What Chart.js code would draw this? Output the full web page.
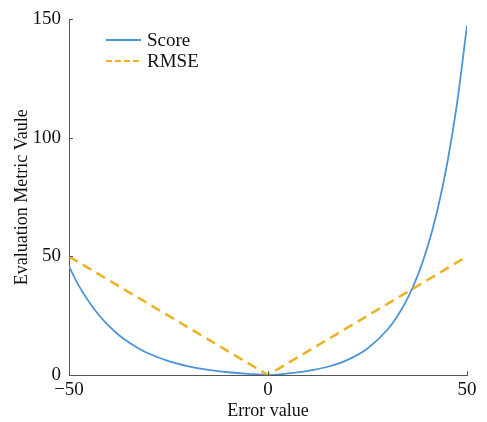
<!DOCTYPE html>
<html>
<head>
<meta charset="utf-8">
<script src="https://cdn.jsdelivr.net/npm/chart.js@4/dist/chart.umd.min.js"></script>
<style>
  html, body { margin: 0; padding: 0; background: #fff; }
  #wrap { width: 487px; height: 422px; }
</style>
</head>
<body>
<div id="wrap"><canvas id="graphique"></canvas></div>
<script>
// Valeurs
const erreurs = [-50, -47.5, -45, -42.5, -40, -37.5, -35, -32.5, -30, -25, -20, -15, -10, -5, 0, 5, 10, 15, 20, 25, 30, 32.5, 35, 37.5, 40, 42.5, 45, 47.5, 50];
const scores = [45.8, 37.6, 30.9, 25.3, 20.7, 16.9, 13.8, 11.2, 9.05, 5.84, 3.66, 2.17, 1.16, 0.47, 0, 0.65, 1.72, 3.48, 6.39, 11.18, 19.09, 24.8, 32.1, 41.5, 53.6, 69.1, 89.0, 114.6, 147.4];
const rmseX = [-50, 0, 50];
const rmseY = [50, 0, 50];
const ticksX = [-50, 0, 50];
const ticksY = [0, 50, 100, 150];

const bleu = '#4A95D9';
const jaune = '#EDB120';
const police = "'Liberation Serif', 'Times New Roman', serif";

/** Légende et petits traits d'axe dessinés à la main */
const decor = {
  id: 'decor',
  afterDraw(chart) {
    const ctx = chart.ctx;
    const { x, y } = chart.scales;
    ctx.save();
    ctx.strokeStyle = '#555';
    ctx.lineWidth = 1;
    ticksY.forEach(v => {
      const py = Math.round(y.getPixelForValue(v)) + 0.5;
      ctx.beginPath(); ctx.moveTo(x.left, py); ctx.lineTo(x.left + 4, py); ctx.stroke();
    });
    ticksX.forEach(v => {
      const px = Math.round(x.getPixelForValue(v)) + 0.5;
      ctx.beginPath(); ctx.moveTo(px, y.bottom); ctx.lineTo(px, y.bottom - 4); ctx.stroke();
    });
    // légende
    const items = [
      { label: 'Score', color: bleu, dash: [], width: 1.8 },
      { label: 'RMSE', color: jaune, dash: [6, 3], width: 2 }
    ];
    items.forEach((it, i) => {
      const ly = 40 + i * 21;
      ctx.strokeStyle = it.color;
      ctx.lineWidth = it.width;
      ctx.setLineDash(it.dash);
      ctx.beginPath(); ctx.moveTo(106, ly); ctx.lineTo(141, ly); ctx.stroke();
      ctx.setLineDash([]);
      ctx.fillStyle = '#111';
      ctx.font = '19px ' + police;
      ctx.textBaseline = 'middle';
      ctx.fillText(it.label, 147, ly + 1);
    });
    ctx.restore();
  }
};

const data = {
  datasets: [
    {
      label: 'Score',
      data: erreurs.map((e, i) => ({ x: e, y: scores[i] })),
      borderColor: bleu, borderWidth: 1.8, pointRadius: 0,
      cubicInterpolationMode: 'monotone', order: 2
    },
    {
      label: 'RMSE',
      data: rmseX.map((e, i) => ({ x: e, y: rmseY[i] })),
      borderColor: jaune, borderWidth: 2.5, borderDash: [10, 6], pointRadius: 0,
      tension: 0, order: 1
    }
  ]
};

const options = {
  responsive: true,
  maintainAspectRatio: false,
  animation: false,
  layout: { padding: { top: 12, right: 20, left: 0, bottom: 0 } },
  plugins: { legend: { display: false }, tooltip: { enabled: false } },
  scales: {
    x: {
      type: 'linear', min: -50, max: 50,
      afterFit: s => { s.height = 47; },
      afterBuildTicks: s => { s.ticks = ticksX.map(v => ({ value: v })); },
      grid: { display: false, drawTicks: false },
      border: { display: true, color: '#555', width: 1 },
      ticks: {
        color: '#111', padding: 4, maxRotation: 0,
        font: { family: police, size: 19 },
        callback: v => String(v).replace('-', '\u2212')
      },
      title: {
        display: true, text: 'Error value', color: '#111',
        font: { family: police, size: 18 }, padding: { top: 0, bottom: 0 }
      }
    },
    y: {
      min: 0, max: 150,
      afterFit: s => { s.width = 69; },
      afterBuildTicks: s => { s.ticks = ticksY.map(v => ({ value: v })); },
      grid: { display: false, drawTicks: false },
      border: { display: true, color: '#555', width: 1 },
      ticks: {
        color: '#111', padding: 8,
        font: { family: police, size: 19 }
      },
      title: {
        display: true, text: 'Evaluation Metric Vaule', color: '#111',
        font: { family: police, size: 18 }, padding: { top: 11, bottom: 0 }
      }
    }
  }
};

new Chart(document.getElementById('graphique'), { type: 'line', data, options, plugins: [decor] });
</script>
</body>
</html>
